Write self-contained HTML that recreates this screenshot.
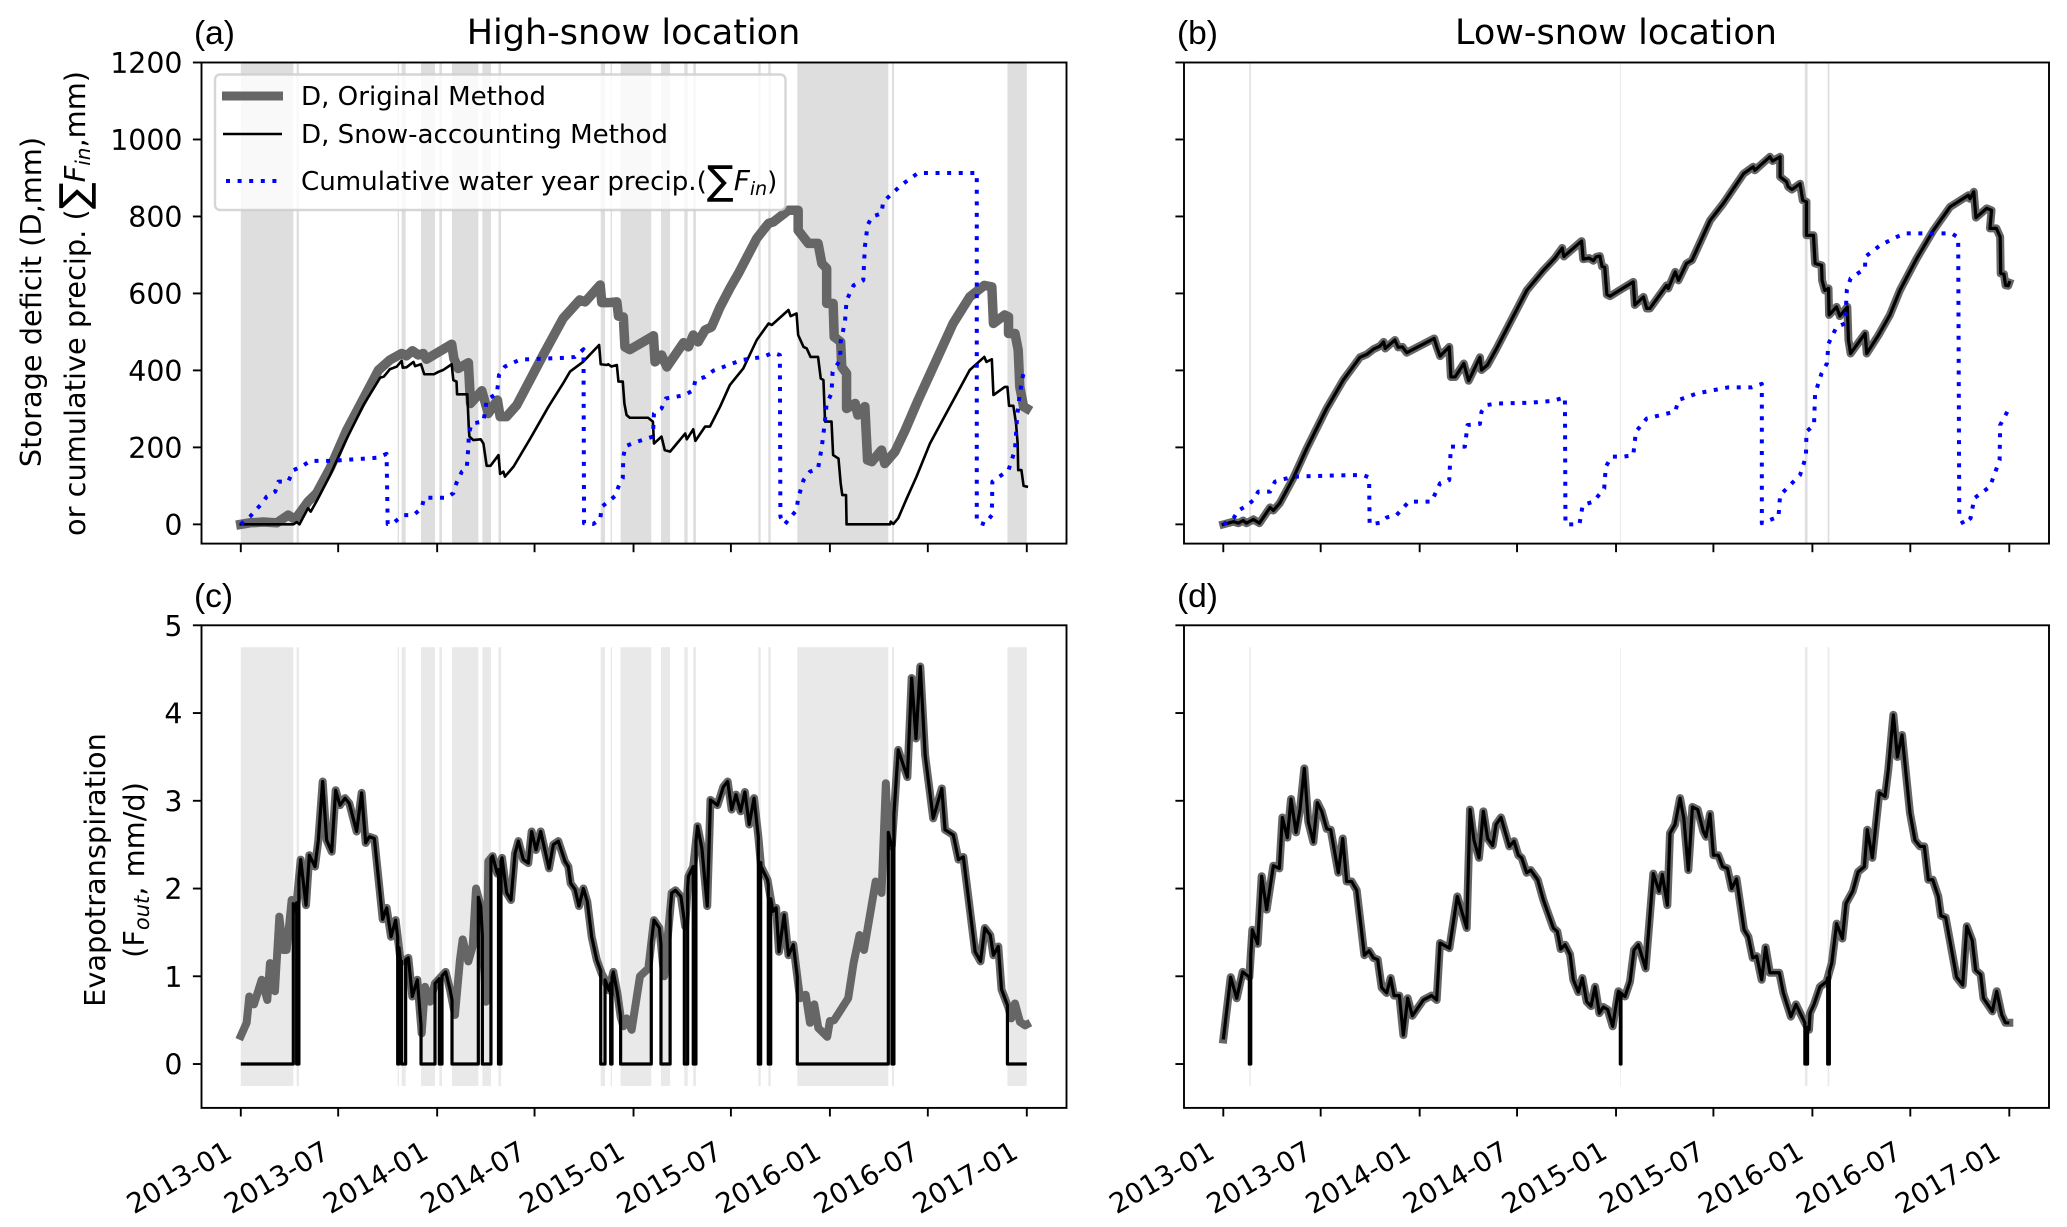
<!DOCTYPE html>
<html lang="en">
<head>
<meta charset="utf-8">
<title>Storage deficit and evapotranspiration</title>
<style>
html,body{margin:0;padding:0;background:#fff;}
svg{display:block;}
text{font-family:"DejaVu Sans","Liberation Sans",sans-serif;fill:#000;}
</style>
</head>
<body>
<svg id="fig" xmlns="http://www.w3.org/2000/svg" width="2067" height="1227" viewBox="0 0 2067 1227">
  <g id="panel-a"></g>
  <g id="panel-b"></g>
  <g id="panel-c"></g>
  <g id="panel-d"></g>

  <text x="194" y="44" font-size="33.5" style="font-family:'Liberation Sans',sans-serif">(a)</text>
  <text x="1177" y="44" font-size="33.5" style="font-family:'Liberation Sans',sans-serif">(b)</text>
  <text x="194" y="607" font-size="33.5" style="font-family:'Liberation Sans',sans-serif">(c)</text>
  <text x="1177" y="607" font-size="33.5" style="font-family:'Liberation Sans',sans-serif">(d)</text>
  <text x="633.5" y="44" font-size="35" text-anchor="middle">High-snow location</text>
  <text x="1616" y="44" font-size="35" text-anchor="middle">Low-snow location</text>

  <g font-size="28.8" text-anchor="middle">
    <text transform="translate(41,302) rotate(-90)">Storage deficit (D,mm)</text>
    <text transform="translate(85,303.5) rotate(-90)">or cumulative precip. (<tspan font-size="40" dy="3">∑</tspan><tspan font-style="italic" dy="-3">F</tspan><tspan font-style="italic" font-size="20" dy="5">in</tspan><tspan dy="-5">,mm)</tspan></text>
  </g>
  <g font-size="28.8" text-anchor="middle">
    <text transform="translate(105,870) rotate(-90)">Evapotranspiration</text>
    <text transform="translate(144,870) rotate(-90)">(F<tspan font-style="italic" font-size="21" dy="5">out</tspan><tspan dy="-5">, mm/d)</tspan></text>
  </g>

  <g id="legend">
    <rect x="215" y="74.5" width="570.5" height="135.5" rx="5" ry="5" fill="#ffffff" fill-opacity="0.8" stroke="#cccccc" stroke-opacity="0.8" stroke-width="2.4"></rect>
    <line x1="222" y1="96" x2="283" y2="96" stroke="#666666" stroke-width="9"></line>
    <line x1="223" y1="134" x2="282" y2="134" stroke="#000" stroke-width="2.6"></line>
    <line x1="226" y1="181" x2="282" y2="181" stroke="#0000ff" stroke-width="4" stroke-dasharray="4 7.6"></line>
    <text x="301" y="105" font-size="26.1">D, Original Method</text>
    <text x="301" y="143" font-size="26.1">D, Snow-accounting Method</text>
    <text x="301" y="190" font-size="26.1">Cumulative water year precip.(<tspan font-size="40" dy="4">∑</tspan><tspan font-style="italic" dy="-4" font-size="28">F</tspan><tspan font-style="italic" font-size="19" dy="5">in</tspan><tspan dy="-5">)</tspan></text>
  </g>
</svg>

<script>
// ---------- axis ticks ----------
const xTickDays = [0, 181, 365, 546, 730, 911, 1095, 1277, 1461];
const xTickLabels = ['2013-01', '2013-07', '2014-01', '2014-07', '2015-01', '2015-07', '2016-01', '2016-07', '2017-01'];
const yTicksStorage = [0, 200, 400, 600, 800, 1000, 1200];
const yTicksEt = [0, 1, 2, 3, 4, 5];

// ---------- snow-covered periods (days since 2013-01-01) ----------
const snowStartHigh = [0, 103.8, 291.6, 299, 335, 369, 392.6, 449, 479, 669, 687.5, 706, 781, 824.4, 841, 962, 980.5, 1034.4, 1210.4, 1425];
const snowEndHigh = [97.6, 108, 294, 306.4, 361, 374, 441.5, 465, 483.6, 677, 690, 763, 798, 830.6, 846, 966.3, 985, 1203.6, 1214, 1461];
const snowStartLow = [48.4, 738, 1081, 1123.4];
const snowEndLow = [51, 739.2, 1086, 1126.5];

// ---------- panel (a): high-snow storage deficit ----------
const dOrigHighDays = [0,17,42,67,88,101,125,141,166,197,225,256,277,299,308,319,330,339,345,392,396,404,423,427,448,460,477,482,494,513,562,599,630,640,668,671,683,699,702,711,714,723,748,767,770,782,792,823,832,841,850,863,875,891,909,925,959,981,990,1018,1036,1036,1055,1073,1080,1089,1089,1101,1103,1115,1117,1126,1126,1142,1147,1160,1165,1173,1191,1197,1216,1235,1259,1293,1324,1355,1382,1396,1399,1420,1427,1427,1439,1445,1448,1455,1461];
const dOrigHighVals = [0,4,6,4,24,13,59,81,146,245,319,401,427,444,438,451,440,444,429,468,431,405,420,314,347,288,323,280,280,310,440,535,583,578,622,576,576,578,541,539,461,454,474,490,422,440,409,472,461,492,474,505,513,565,613,652,743,782,786,816,816,764,730,730,678,665,574,574,487,474,409,392,301,314,284,306,167,163,193,158,189,245,323,427,522,591,621,617,522,544,539,496,496,453,357,306,301];
const dSnowHighDays = [0,98,104,109,125,130,142,166,197,228,259,266,277,290,299,301,308,321,324,335,341,359,367,376,392,395,401,402,421,424,425,432,446,451,457,464,479,482,488,491,507,538,572,599,612,636,666,669,680,683,689,699,702,710,713,717,723,757,766,768,782,788,798,826,829,841,845,863,872,891,909,934,959,981,987,1018,1022,1033,1036,1046,1052,1059,1073,1078,1083,1086,1098,1101,1111,1115,1118,1125,1126,1207,1208,1213,1222,1238,1256,1281,1318,1355,1382,1386,1396,1399,1420,1425,1428,1436,1441,1444,1445,1451,1455,1461];
const dSnowHighVals = [0,0,6,0,42,33,63,128,223,310,381,384,403,410,425,407,408,422,411,416,390,390,396,401,416,375,371,338,338,245,228,219,221,210,152,152,180,131,137,124,150,223,306,366,397,422,466,416,414,416,410,414,371,371,314,284,277,277,267,210,228,193,189,236,221,247,217,254,254,306,362,405,479,522,518,557,541,548,492,461,457,435,435,379,375,267,267,180,171,107,76,76,0,0,7,1,16,68,124,210,306,401,435,422,429,336,357,357,308,308,262,210,141,141,100,98];
const precipHighDays = [0,17,42,48,64,70,88,98,113,129,169,253,271,273,283,302,321,336,341,383,395,401,411,420,423,424,429,451,454,457,476,480,491,503,519,606,621,637,638,655,668,671,683,696,702,710,711,715,733,766,768,782,790,826,841,845,863,878,897,931,971,989,1002,1003,1011,1033,1036,1046,1058,1073,1080,1085,1089,1098,1100,1114,1115,1123,1126,1139,1157,1160,1165,1173,1191,1194,1210,1231,1259,1368,1368,1383,1396,1397,1427,1439,1443,1448,1455];
const precipHighVals = [0,20,59,72,85,111,111,141,150,165,165,173,183,1,3,24,24,42,69,69,81,108,137,146,202,236,262,267,293,323,340,388,410,418,428,433,435,455,3,1,13,46,59,74,98,120,176,203,213,228,288,301,327,336,349,375,383,399,409,427,435,446,440,20,0,37,68,115,137,145,202,258,314,340,396,427,474,526,582,621,634,721,777,799,808,838,859,885,913,913,7,0,24,111,141,193,280,340,395];

// ---------- panel (b): low-snow storage deficit ----------
const dLowDays = [0,19,28,37,43,56,67,87,93,105,130,155,192,223,254,267,279,291,298,301,319,325,333,341,392,397,403,420,423,431,447,456,477,480,491,508,564,595,616,630,633,666,669,680,688,693,700,704,709,713,719,762,765,781,787,793,824,827,840,846,861,871,905,929,967,985,988,1016,1021,1035,1035,1047,1050,1057,1072,1077,1084,1084,1097,1100,1112,1113,1118,1125,1126,1140,1146,1160,1162,1166,1193,1196,1218,1239,1258,1289,1320,1351,1385,1388,1395,1399,1419,1428,1425,1437,1444,1445,1451,1454,1459,1461];
const dLowVals = [0,7,3,10,3,13,3,44,36,55,120,197,301,375,434,442,455,463,474,457,479,460,461,446,483,460,437,461,383,383,418,373,434,401,414,457,608,660,691,718,696,736,689,692,685,695,697,670,668,597,593,630,570,591,561,561,621,613,656,634,678,686,790,833,911,929,920,955,944,955,903,890,877,870,885,842,838,751,751,678,673,634,608,613,544,565,541,565,479,444,496,444,492,544,609,691,764,825,855,846,864,797,821,816,769,769,747,652,650,621,620,628];
const precipLowDays = [0,19,28,43,56,65,87,96,130,235,260,271,272,291,304,322,345,387,403,420,423,449,454,477,480,490,508,570,613,635,636,662,668,688,708,711,722,744,762,767,787,840,846,880,920,939,982,1001,1001,1032,1035,1072,1083,1084,1098,1100,1112,1122,1125,1140,1156,1159,1166,1193,1193,1221,1252,1267,1354,1366,1368,1376,1389,1396,1425,1443,1444,1459];
const precipLowVals = [0,16,36,48,63,85,85,111,124,128,128,122,0,4,18,24,59,59,107,115,202,202,258,261,293,310,314,316,321,330,0,0,50,59,93,150,176,176,180,241,275,293,323,340,351,356,356,365,3,20,76,128,176,241,258,340,392,418,470,513,522,609,639,665,695,725,747,756,756,745,20,0,16,68,98,167,258,297];

// ---------- panel (c): high-snow evapotranspiration ----------
const etHighDays = [0,10.9,15.8,24.5,38.8,49.3,54.2,63.5,71.6,79,85.2,94.5,102.6,111.3,121.2,127.4,137.9,144.1,152.2,159.6,168.9,176.3,184.4,193.7,201.7,215.3,224.6,232.1,238.9,248.2,263.7,271.1,279.2,287.8,297.1,302,311.4,318.8,328.1,336.2,342.4,351.7,361,380.8,388.8,398.1,407.4,412.4,422.9,431,437.2,445.9,455.7,460.1,468.1,476.8,485.5,494.2,502.2,509.7,515.9,525.1,534.4,540.6,548.7,557.4,572.9,580.9,590.2,602.6,608.8,613.1,621.2,628.6,636.7,644.1,652.2,661.5,670.8,677,684.4,692.4,699.9,706,711,717.2,726.5,742,757.5,768,778,787,801,808,818,826,832,841,849,857,867,873,886,897,905,912.4,920.4,929,937,945,954,962,967,979,989,995,1000.4,1010,1018,1027,1039.4,1050,1058,1066,1073.5,1090,1095,1103,1129,1139,1150,1158.4,1180,1191,1199,1202.4,1210,1222,1239,1247,1255,1263,1272,1287,1303,1309,1324.4,1334,1343,1365,1375,1383,1393,1399,1408,1414,1427,1432,1439,1448.4,1458,1461];
const etHighVals = [0.32,0.47,0.77,0.68,0.96,0.73,1.15,0.83,1.68,1.3,1.3,1.87,1.76,2.33,1.81,2.38,2.25,2.55,3.22,2.55,2.42,3.12,2.95,3.03,2.97,2.65,3.09,2.52,2.59,2.57,1.65,1.78,1.45,1.64,1.17,1.17,1.21,0.77,0.96,0.35,0.88,0.71,0.92,1.05,0.85,0.56,1.19,1.42,1.17,1.34,2.0,1.8,0.71,2.31,2.37,2.17,2.35,1.95,1.87,2.4,2.54,2.33,2.29,2.65,2.44,2.65,2.23,2.5,2.54,2.31,2.25,2.06,1.99,1.8,2.0,1.85,1.45,1.19,1.03,0.96,0.84,1.05,0.81,0.54,0.43,0.52,0.39,1.0,1.09,1.64,1.55,1.0,1.95,1.98,1.91,1.57,2.14,2.25,2.71,2.46,1.8,3.01,2.95,3.16,3.22,2.9,3.07,2.88,3.1,2.73,3.03,2.59,2.25,2.1,1.74,1.78,1.28,1.7,1.24,1.36,0.75,0.79,0.47,0.68,0.41,0.31,0.49,0.5,0.75,1.15,1.47,1.3,2.08,1.95,3.2,2.67,2.48,3.58,3.27,4.4,3.71,4.53,3.52,2.8,3.14,2.67,2.61,2.33,2.36,1.28,1.17,1.55,1.47,1.24,1.34,0.85,0.64,0.52,0.69,0.48,0.44,0.45];

// ---------- panel (d): low-snow evapotranspiration ----------
const etLowDays = [0,13.7,24.9,36,48.4,54,63.9,71.3,80.6,93,104.2,109.8,119,125.9,135.2,142.6,150.6,158,167.4,174.8,182.9,192.2,199.6,213.8,222,229.3,238.6,248,262.2,270.9,278.9,287,294.4,303.7,311.1,317.3,327.2,334.7,342.7,351.4,371.8,387.3,396.6,402.8,420.2,435,452.4,458.6,466,475.3,483.4,491.4,500.7,507,516.2,531.7,540.4,548.4,554.6,563.9,571.4,584.4,594.9,613.5,620.9,627.1,635.2,644.5,650.6,660,667.4,675.5,683.5,691,699,706.4,714.5,723.8,734.3,746.7,756,763.4,771.5,785,799.3,810,816,825.4,830.3,839.6,849,856,864.4,872,881.8,892.3,897.2,904.7,911,920,928,937,945,954,968,976,984,991.4,1000.7,1008,1016,1033.5,1041,1055,1064.5,1081,1088.7,1090.6,1098,1109,1121.5,1131,1140,1150.7,1157.5,1170,1180,1191.6,1197,1206.4,1219.4,1230,1236,1245.5,1253,1261.6,1276.4,1285.7,1295,1303,1310.5,1318.6,1329,1334,1342.7,1363,1374.4,1382,1392,1398.5,1407.8,1413,1429.5,1437.5,1447,1454,1461];
const etLowVals = [0.28,0.99,0.75,1.05,0.99,1.53,1.37,2.14,1.76,2.26,2.23,2.81,2.58,3.02,2.64,2.9,3.37,2.76,2.53,2.98,2.88,2.68,2.67,2.18,2.57,2.08,2.08,1.98,1.24,1.29,1.21,1.19,0.87,0.81,0.98,0.78,0.78,0.33,0.75,0.55,0.73,0.78,0.73,1.38,1.32,1.91,1.55,2.9,2.55,2.35,2.88,2.57,2.49,2.73,2.81,2.48,2.54,2.38,2.35,2.18,2.21,2.1,1.87,1.55,1.51,1.31,1.36,1.25,0.96,0.82,0.98,0.71,0.66,0.88,0.58,0.65,0.62,0.43,0.83,0.77,0.94,1.3,1.36,1.09,2.17,1.97,2.16,1.81,2.63,2.73,3.03,2.8,2.21,2.93,2.9,2.65,2.59,2.85,2.38,2.38,2.25,2.23,2.0,2.11,1.53,1.45,1.21,1.23,0.96,1.33,1.04,1.04,0.81,0.54,0.68,0.47,0.39,0.58,0.68,0.88,0.94,1.15,1.6,1.43,1.83,1.97,2.19,2.25,2.67,2.35,3.09,3.05,3.35,3.98,3.5,3.75,2.86,2.55,2.48,2.48,2.1,2.1,1.91,1.69,1.67,0.99,0.9,1.57,1.41,1.07,1.02,0.75,0.6,0.83,0.56,0.47,0.47];

// ---------- axis functions ----------
const SVG_NS = 'http://www.w3.org/2000/svg';
const AX_W = 865;
const LEFT_COL = 201.5;
const RIGHT_COL = 1184;
const TOP_ROW = {top: 62.5, bottom: 543.6};
const BOTTOM_ROW = {top: 625.3, bottom: 1107.9};

function xScale(left, day) { return left + 39.3 + day * 786 / 1461; }
function yStorage(v) { return TOP_ROW.bottom - (v + 50) / 1250 * (TOP_ROW.bottom - TOP_ROW.top); }
function yEt(v) { return BOTTOM_ROW.bottom - (v + 0.5) / 5.5 * (BOTTOM_ROW.bottom - BOTTOM_ROW.top); }

function make(tag, parent) {
  const el = document.createElementNS(SVG_NS, tag);
  parent.appendChild(el);
  return el;
}

function interpolate(days, vals, d) {
  if (d <= days[0]) return vals[0];
  for (let i = 1; i < days.length; i++) {
    if (d <= days[i]) {
      const f = (d - days[i - 1]) / ((days[i] - days[i - 1]) || 1);
      return vals[i - 1] + f * (vals[i] - vals[i - 1]);
    }
  }
  return vals[vals.length - 1];
}

// Black snow-accounting ET: follows the series but is zero inside snow periods.
function zeroInSnow(days, vals, starts, ends) {
  const all = Array.from(new Set(days.concat(starts, ends))).sort(function (a, b) { return a - b; });
  const outD = [];
  const outV = [];
  const first = days[0];
  const last = days[days.length - 1];
  all.forEach(function (d) {
    let isStart = false, isEnd = false, inside = false;
    for (let k = 0; k < starts.length; k++) {
      if (d === starts[k]) isStart = true;
      if (d === ends[k]) isEnd = true;
      if (d > starts[k] && d < ends[k]) inside = true;
    }
    if (inside) return;
    const v = interpolate(days, vals, d);
    if (isStart) {
      if (d > first) { outD.push(d); outV.push(v); }
      outD.push(d); outV.push(0);
    } else if (isEnd) {
      outD.push(d); outV.push(0);
      if (d < last) { outD.push(d); outV.push(v); }
    } else {
      outD.push(d); outV.push(v);
    }
  });
  return {days: outD, vals: outV};
}

function drawSpans(group, left, row, starts, ends, color, topValueY, bottomValueY) {
  for (let i = 0; i < starts.length; i++) {
    const r = make('rect', group);
    
    
    const x0 = xScale(left, starts[i]);
    const x1 = xScale(left, ends[i]);
    r.setAttribute('x', x0);
    r.setAttribute('width', x1 - x0);
    r.setAttribute('y', topValueY);
    r.setAttribute('height', bottomValueY - topValueY);
    r.setAttribute('fill', color);
  }
}

function drawLine(group, name, left, yFn, days, vals, color, width, dash, cap) {
  const pts = days.map(function (d, i) { return xScale(left, d).toFixed(2) + ',' + yFn(vals[i]).toFixed(2); });
  const p = make('polyline', group);
  
  
  p.setAttribute('points', pts.join(' '));
  p.setAttribute('fill', 'none');
  p.setAttribute('stroke', color);
  p.setAttribute('stroke-width', width);
  p.setAttribute('stroke-linejoin', 'round');
  p.setAttribute('stroke-linecap', cap || 'butt');
  if (dash) p.setAttribute('stroke-dasharray', dash);
}

function drawFrame(group, left, row, yFn, yTicks, showX, showY) {
  const frame = make('rect', group);
  
  
  frame.setAttribute('x', left);
  frame.setAttribute('y', row.top);
  frame.setAttribute('width', AX_W);
  frame.setAttribute('height', row.bottom - row.top);
  frame.setAttribute('fill', 'none');
  frame.setAttribute('stroke', '#000');
  frame.setAttribute('stroke-width', 1.9);

  xTickDays.forEach(function (d, i) {
    const x = xScale(left, d);
    const t = make('line', group);
    
    
    t.setAttribute('x1', x);
    t.setAttribute('x2', x);
    t.setAttribute('y1', row.bottom);
    t.setAttribute('y2', row.bottom + 8.6);
    t.setAttribute('stroke', '#000');
    t.setAttribute('stroke-width', 1.9);
    if (showX) {
      const lab = make('text', group);
      
      
      lab.setAttribute('font-size', 27.6);
      lab.setAttribute('text-anchor', 'end');
      lab.setAttribute('transform', 'translate(' + (x - 7) + ',' + (row.bottom + 49) + ') rotate(-30)');
      lab.textContent = xTickLabels[i];
    }
  });

  yTicks.forEach(function (v) {
    const y = yFn(v);
    const t = make('line', group);
    
    
    t.setAttribute('x1', left - 8.6);
    t.setAttribute('x2', left);
    t.setAttribute('y1', y);
    t.setAttribute('y2', y);
    t.setAttribute('stroke', '#000');
    t.setAttribute('stroke-width', 1.9);
    if (showY) {
      const lab = make('text', group);
      
      
      lab.setAttribute('font-size', 28.4);
      lab.setAttribute('text-anchor', 'end');
      lab.setAttribute('x', left - 19);
      lab.setAttribute('y', y + 10.5);
      lab.textContent = String(v);
    }
  });
}

const GRAY = '#666666';
const BLUE = '#0000ff';
const DOT = '4 7.6';
const SHADE_TOP = '#dedede';
const SHADE_BOTTOM = '#e9e9e9';

// Panel (a)
(function () {
  const g = document.getElementById('panel-a');
  drawSpans(g, LEFT_COL, TOP_ROW, snowStartHigh, snowEndHigh, SHADE_TOP, TOP_ROW.top, TOP_ROW.bottom);
  drawLine(g, 'd-original-method-line', LEFT_COL, yStorage, dOrigHighDays, dOrigHighVals, GRAY, 9.5, null, 'square');
  drawLine(g, 'd-snow-accounting-line', LEFT_COL, yStorage, dSnowHighDays, dSnowHighVals, '#000', 2.6, null, 'square');
  drawLine(g, 'cumulative-precip-line', LEFT_COL, yStorage, precipHighDays, precipHighVals, BLUE, 4, DOT);
  drawFrame(g, LEFT_COL, TOP_ROW, yStorage, yTicksStorage, false, true);
})();

// Panel (b)
(function () {
  const g = document.getElementById('panel-b');
  drawSpans(g, RIGHT_COL, TOP_ROW, snowStartLow, snowEndLow, SHADE_TOP, TOP_ROW.top, TOP_ROW.bottom);
  drawLine(g, 'd-original-method-line', RIGHT_COL, yStorage, dLowDays, dLowVals, GRAY, 8, null, 'square');
  drawLine(g, 'd-snow-accounting-line', RIGHT_COL, yStorage, dLowDays, dLowVals, '#000', 3.2, null, 'square');
  drawLine(g, 'cumulative-precip-line', RIGHT_COL, yStorage, precipLowDays, precipLowVals, BLUE, 4, DOT);
  drawFrame(g, RIGHT_COL, TOP_ROW, yStorage, yTicksStorage, false, false);
})();

// Panel (c)
(function () {
  const g = document.getElementById('panel-c');
  drawSpans(g, LEFT_COL, BOTTOM_ROW, snowStartHigh, snowEndHigh, SHADE_BOTTOM, yEt(4.75), yEt(-0.25));
  drawLine(g, 'et-original-method-line', LEFT_COL, yEt, etHighDays, etHighVals, GRAY, 8, null, 'square');
  const black = zeroInSnow(etHighDays, etHighVals, snowStartHigh, snowEndHigh);
  drawLine(g, 'et-snow-accounting-line', LEFT_COL, yEt, black.days, black.vals, '#000', 3.2, null, 'butt');
  drawFrame(g, LEFT_COL, BOTTOM_ROW, yEt, yTicksEt, true, true);
})();

// Panel (d)
(function () {
  const g = document.getElementById('panel-d');
  drawSpans(g, RIGHT_COL, BOTTOM_ROW, snowStartLow, snowEndLow, SHADE_BOTTOM, yEt(4.75), yEt(-0.25));
  drawLine(g, 'et-original-method-line', RIGHT_COL, yEt, etLowDays, etLowVals, GRAY, 8, null, 'square');
  const black = zeroInSnow(etLowDays, etLowVals, snowStartLow, snowEndLow);
  drawLine(g, 'et-snow-accounting-line', RIGHT_COL, yEt, black.days, black.vals, '#000', 3.2, null, 'butt');
  drawFrame(g, RIGHT_COL, BOTTOM_ROW, yEt, yTicksEt, true, false);
})();
</script>
</body>
</html>
